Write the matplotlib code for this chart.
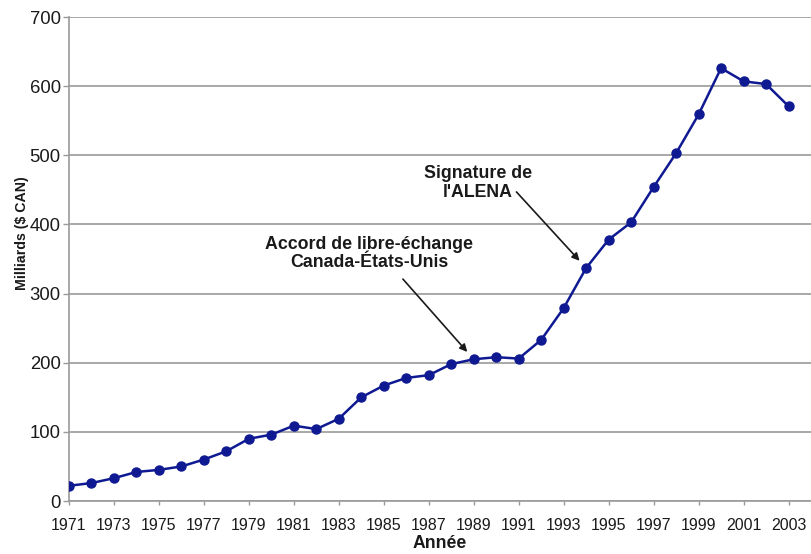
import matplotlib
matplotlib.use("Agg")
import matplotlib.pyplot as plt

plt.rcParams['font.family'] = ['Liberation Sans', 'DejaVu Sans']

years = list(range(1971, 2004))
values = [22, 26, 33, 42, 45, 50, 60, 72, 90, 96, 109, 104, 119, 150, 167,
          178, 182, 198, 205, 208, 206, 233, 279, 337, 378, 403, 454, 503,
          559, 626, 607, 603, 571]
tick_years = list(range(1971, 2004, 2))
y_ticks = [0, 100, 200, 300, 400, 500, 600, 700]

# (text, target year, target value, text centre x, text centre y, arrow tail x, arrow tail y)
annotations = [
    ("Accord de libre-échange\nCanada-États-Unis", 1989, 205, 1984.35, 358, 1985.85, 321),
    ("Signature de\nl'ALENA", 1994, 337, 1989.2, 460, 1990.9, 447),
]

fig = plt.figure(figsize=(8.11, 5.54), dpi=100)
ax = fig.add_axes([69 / 811, 1 - 501 / 554, 742 / 811, 484 / 554])

line_color = '#0f1a92'
grid_color = '#9a9a9a'
text_color = '#1a1a1a'

ax.plot(years, values, color=line_color, lw=1.8, marker='o', ms=6.5,
        markeredgecolor=line_color, markerfacecolor=line_color, zorder=3)

ax.set_xlim(1971, 2004)
ax.set_ylim(0, 700)
ax.set_xticks(tick_years)
ax.set_xticklabels([str(y) for y in tick_years], fontsize=11.5, color=text_color)
ax.set_yticks(y_ticks)
ax.set_yticklabels([str(v) for v in y_ticks], fontsize=13.3, color=text_color)

ax.grid(axis='y', color=grid_color, lw=1.2)
ax.set_axisbelow(True)
for side in ('top', 'right'):
    ax.spines[side].set_visible(False)
for side in ('left', 'bottom'):
    ax.spines[side].set_color(grid_color)
    ax.spines[side].set_linewidth(1.2)
ax.tick_params(axis='both', which='both', color=grid_color, width=1.0)
ax.tick_params(axis='x', length=3, pad=9)
ax.tick_params(axis='y', length=4, pad=2)

ax.set_xlabel('Année', fontsize=12.7, fontweight='bold', labelpad=2,
              color=text_color)
fig.text(22 / 811, 1 - 233 / 554, 'Milliards ($ CAN)', rotation=90,
         ha='center', va='center', fontsize=10.2, fontweight='bold',
         color=text_color)

for text, xp, yp, xt, yt, xa, ya in annotations:
    ax.text(xt, yt, text, ha='center', va='center', fontsize=12.8,
            fontweight='bold', color=text_color, linespacing=1.1)
    ax.annotate('', xy=(xp, yp), xytext=(xa, ya), textcoords='data',
                arrowprops=dict(arrowstyle='-|>', color=text_color, lw=1.2,
                                mutation_scale=11, shrinkA=0, shrinkB=7))

fig.savefig('out.png', dpi=100)
